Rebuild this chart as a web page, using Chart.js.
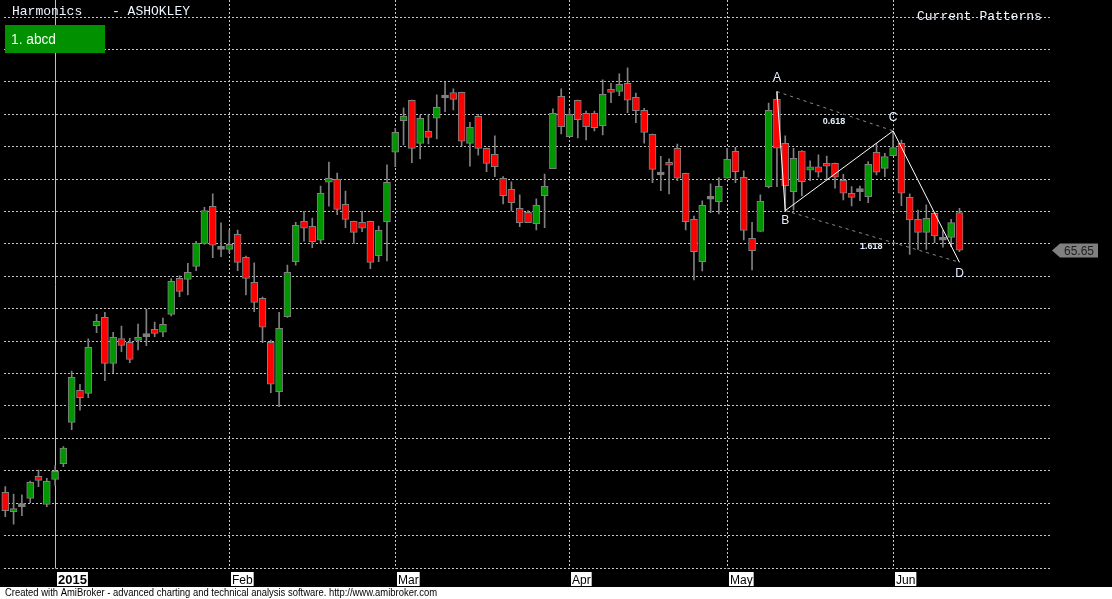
<!DOCTYPE html>
<html>
<head>
<meta charset="utf-8">
<title>Harmonics - ASHOKLEY</title>
<script src="https://cdn.jsdelivr.net/npm/chart.js@4.4.0/dist/chart.umd.min.js"></script>
<style>
  html, body { margin: 0; padding: 0; background: #000; }
  canvas { display: block; }
</style>
</head>
<body>
<canvas id="chart" width="1112" height="599"></canvas>
<script>
// Daily OHLC, 23 Dec 2014 -> 11 Jun 2015 (one entry per trading day)
const opens = [
  50.70, 49.51, 49.82, 50.33, 51.69, 49.96, 51.50, 52.47, 55.02, 57.00,
  56.81, 60.99, 61.50, 58.66, 60.19, 59.96, 60.08, 60.31, 60.76, 60.58,
  61.69, 63.91, 63.85, 64.65, 66.07, 68.35, 65.70, 65.70, 66.63, 65.21,
  63.66, 62.68, 59.96, 56.91, 61.54, 64.94, 67.43, 67.12, 66.26, 69.84,
  70.02, 68.48, 67.43, 67.37, 67.43, 65.31, 67.41, 71.69, 73.64, 74.90,
  72.24, 72.98, 73.79, 75.04, 75.37, 75.39, 72.24, 73.91, 71.93, 71.57,
  70.09, 69.41, 68.23, 67.99, 67.29, 69.02, 70.68, 75.15, 72.66, 74.90,
  74.10, 74.10, 73.34, 75.58, 75.44, 75.95, 75.09, 74.28, 72.80, 70.29,
  71.01, 71.94, 70.39, 67.55, 64.94, 68.79, 68.64, 70.09, 71.75, 70.15,
  66.38, 66.80, 69.57, 74.96, 72.25, 69.26, 71.77, 70.58, 70.79, 70.95,
  71.01, 69.96, 69.16, 69.26, 68.95, 71.69, 70.70, 71.48, 72.25, 68.91,
  67.55, 66.75, 67.93, 66.26, 66.44, 67.97
];
const highs = [
  51.05, 50.60, 50.54, 51.40, 52.08, 51.56, 52.33, 53.52, 58.19, 57.37,
  60.17, 61.69, 61.81, 60.58, 60.97, 60.21, 61.09, 62.00, 61.21, 61.46,
  63.89, 64.07, 64.84, 66.19, 68.29, 69.12, 67.33, 66.89, 66.89, 65.29,
  64.86, 62.75, 60.10, 61.81, 64.73, 67.37, 68.05, 67.63, 69.61, 71.09,
  70.41, 69.30, 67.45, 68.05, 67.45, 67.14, 70.91, 73.17, 74.44, 74.92,
  73.99, 73.99, 75.23, 76.01, 75.60, 75.41, 73.54, 74.03, 71.95, 72.70,
  70.19, 69.86, 69.06, 68.09, 68.81, 70.35, 74.37, 75.60, 74.30, 74.92,
  74.24, 74.24, 76.16, 75.95, 76.53, 76.90, 75.35, 74.41, 72.82, 71.44,
  71.28, 72.20, 70.41, 67.76, 68.69, 69.74, 70.13, 71.94, 72.00, 70.54,
  67.37, 69.06, 74.72, 75.44, 72.70, 71.94, 71.79, 71.16, 71.53, 71.46,
  71.03, 70.33, 69.57, 69.61, 71.11, 72.25, 71.63, 72.97, 72.45, 69.12,
  68.13, 68.44, 67.95, 66.86, 67.55, 68.23
];
const lows = [
  49.20, 48.73, 49.26, 50.06, 51.05, 49.82, 51.15, 52.28, 54.57, 55.78,
  56.54, 60.56, 57.59, 58.09, 59.38, 58.70, 59.49, 59.75, 60.31, 60.31,
  61.59, 62.78, 62.88, 64.38, 66.00, 65.19, 65.25, 65.49, 64.38, 62.88,
  61.85, 59.94, 56.85, 55.99, 61.50, 64.73, 66.21, 65.80, 66.07, 68.37,
  67.84, 67.04, 66.05, 66.79, 64.51, 64.94, 64.98, 70.80, 72.14, 71.05,
  71.28, 72.20, 72.51, 74.20, 74.30, 72.08, 70.84, 71.52, 70.49, 70.19,
  68.50, 68.07, 67.10, 67.35, 66.90, 67.04, 70.68, 72.82, 72.66, 72.57,
  72.45, 73.01, 72.76, 74.76, 75.19, 74.14, 73.52, 72.25, 69.82, 69.32,
  69.12, 69.94, 66.90, 63.81, 64.37, 67.97, 67.88, 70.09, 69.82, 66.28,
  64.43, 66.80, 69.49, 69.57, 68.09, 68.13, 68.99, 69.94, 70.15, 69.98,
  69.47, 68.75, 68.38, 68.71, 68.58, 70.29, 70.19, 71.48, 68.40, 65.39,
  65.70, 65.70, 66.11, 65.83, 65.87, 65.56
];
const closes = [
  49.57, 49.67, 49.82, 51.32, 51.44, 51.38, 52.00, 53.44, 57.80, 56.54,
  59.65, 61.26, 58.66, 60.27, 59.77, 58.91, 60.21, 60.31, 60.51, 61.07,
  63.72, 63.11, 64.28, 66.07, 68.09, 65.95, 65.70, 66.01, 64.90, 63.91,
  62.43, 60.89, 57.37, 60.82, 64.28, 67.18, 67.00, 66.17, 69.16, 70.08,
  68.17, 67.55, 66.75, 67.00, 64.90, 66.87, 69.84, 72.92, 73.93, 71.93,
  73.79, 72.61, 74.47, 75.04, 74.96, 72.37, 73.23, 71.93, 71.01, 70.81,
  69.02, 68.58, 67.35, 67.35, 68.42, 69.59, 74.10, 73.27, 74.04, 73.71,
  73.27, 73.21, 75.27, 75.39, 75.89, 74.90, 74.26, 72.92, 70.64, 70.29,
  70.89, 70.09, 67.41, 65.56, 68.42, 68.79, 69.59, 71.26, 70.50, 66.86,
  65.62, 68.67, 74.28, 71.94, 69.63, 71.32, 69.88, 70.79, 70.46, 70.83,
  70.15, 69.16, 68.91, 69.26, 70.95, 70.46, 71.42, 71.98, 69.16, 67.51,
  66.75, 67.62, 66.53, 66.26, 67.35, 65.65
];

// first trading day of each month (bar index) and its axis label
const monthStarts = [6, 27, 47, 68, 87, 107];
const monthLabels = ['2015', 'Feb', 'Mar', 'Apr', 'May', 'Jun'];

// horizontal grid levels
const gridPrices = [46, 48, 50, 52, 54, 56, 58, 60, 62, 64, 66, 68, 70, 72, 74, 76, 78, 80];

// harmonic abcd pattern
const patternNames = ['A', 'B', 'C', 'D'];
const patternIdx = [93, 94, 107, 115];
const patternPrices = [75.44, 68.09, 73.01, 64.90];
const ratioLabels = ['0.618', '1.618'];

const idx = opens.map((_, i) => i);
const bodyColors = idx.map(i =>
  closes[i] > opens[i] ? '#009600' : (closes[i] < opens[i] ? '#ff0000' : '#808080'));

const pt = k => ({ x: patternIdx[k], y: patternPrices[k] });

const amiPlugin = {
  id: 'ami',
  beforeDraw(chart) {
    const { ctx, width, height } = chart;
    ctx.save();
    ctx.fillStyle = '#000';
    ctx.fillRect(0, 0, width, height);
    ctx.fillStyle = '#fff';
    ctx.fillRect(0, 587, width, height - 587);
    ctx.restore();
  },
  beforeDatasetsDraw(chart) {
    const { ctx, chartArea, scales: { x, y } } = chart;
    ctx.save();
    ctx.lineWidth = 1;
    ctx.strokeStyle = '#c8c8c8';
    ctx.setLineDash([2, 2]);
    gridPrices.forEach(p => {
      const py = Math.round(y.getPixelForValue(p)) - 0.5;
      ctx.beginPath();
      ctx.moveTo(chartArea.left + 4, py);
      ctx.lineTo(chartArea.right, py);
      ctx.stroke();
    });
    monthStarts.forEach((m, k) => {
      const px = Math.floor(x.getPixelForValue(m)) + 0.5;
      // year line is solid, months dotted
      ctx.setLineDash(k === 0 ? [] : [2, 2]);
      ctx.strokeStyle = k === 0 ? '#c0c0c0' : '#c8c8c8';
      ctx.beginPath();
      ctx.moveTo(px, chartArea.top);
      ctx.lineTo(px, chartArea.bottom);
      ctx.stroke();
    });
    ctx.restore();
  },
  afterDraw(chart) {
    const { ctx, chartArea, scales: { x, y } } = chart;
    ctx.save();

    // pattern point labels
    ctx.fillStyle = '#e4f0ff';
    ctx.font = '12px "Liberation Sans", Arial, sans-serif';
    ctx.textAlign = 'center';
    ctx.textBaseline = 'middle';
    const offs = [-14, 10, -13, 11];
    patternNames.forEach((n, k) => {
      ctx.fillText(n, x.getPixelForValue(patternIdx[k]), y.getPixelForValue(patternPrices[k]) + offs[k]);
    });
    ctx.font = 'bold 9px "Liberation Sans", Arial, sans-serif';
    [[0, 2], [1, 3]].forEach(([a, b], k) => {
      const mx = (x.getPixelForValue(patternIdx[a]) + x.getPixelForValue(patternIdx[b])) / 2;
      const my = (y.getPixelForValue(patternPrices[a]) + y.getPixelForValue(patternPrices[b])) / 2;
      ctx.fillText(ratioLabels[k], mx - 1, my + 10);
    });

    // titles
    ctx.textAlign = 'left';
    ctx.textBaseline = 'alphabetic';
    ctx.fillStyle = '#eef6ff';
    ctx.font = '13px "Liberation Mono", "DejaVu Sans Mono", monospace';
    ctx.fillText('Harmonics', 12, 15);
    ctx.fillText('- ASHOKLEY', 112, 15);
    ctx.fillText('Current Patterns', 917, 20);

    // pattern list box
    ctx.fillStyle = '#009000';
    ctx.fillRect(5, 25, 100, 28);
    ctx.fillStyle = '#f4fff4';
    ctx.font = '14px "Liberation Sans", Arial, sans-serif';
    ctx.fillText('1. abcd', 11, 44, 45);

    // last price tag
    const last = closes[closes.length - 1];
    const py = Math.round(y.getPixelForValue(last)) + 0.5;
    const rx = chartArea.right + 1;
    ctx.fillStyle = '#808080';
    ctx.beginPath();
    ctx.moveTo(rx, py);
    ctx.lineTo(rx + 8, py - 7);
    ctx.lineTo(rx + 46, py - 7);
    ctx.lineTo(rx + 46, py + 7);
    ctx.lineTo(rx + 8, py + 7);
    ctx.closePath();
    ctx.fill();
    ctx.fillStyle = '#1e1e1e';
    ctx.font = '12px "Liberation Sans", Arial, sans-serif';
    ctx.textAlign = 'center';
    ctx.textBaseline = 'middle';
    ctx.fillText(last.toFixed(2), rx + 27, py + 1);

    // month labels
    ctx.textAlign = 'left';
    ctx.textBaseline = 'alphabetic';
    monthStarts.forEach((m, k) => {
      const px = Math.floor(x.getPixelForValue(m)) + 2;
      ctx.font = k === 0 ? 'bold 13px "Liberation Sans", Arial, sans-serif'
                         : '12px "Liberation Sans", Arial, sans-serif';
      const w = ctx.measureText(monthLabels[k]).width + 2;
      ctx.fillStyle = '#fff';
      ctx.fillRect(px, 572, w, 14);
      ctx.fillStyle = '#000';
      ctx.fillText(monthLabels[k], px + 1, 584);
    });

    // footer
    ctx.fillStyle = '#000';
    ctx.font = '10px "Liberation Sans", Arial, sans-serif';
    ctx.fillText('Created with AmiBroker - advanced charting and technical analysis software. http://www.amibroker.com', 5, 596, 432);
    ctx.restore();
  }
};

new Chart(document.getElementById('chart'), {
  type: 'bar',
  data: {
    datasets: [
      {
        type: 'line',
        data: patternIdx.map((_, k) => pt(k)),
        borderColor: '#ffffff',
        borderWidth: 1,
        pointRadius: 0,
        tension: 0,
        order: 0
      },
      {
        type: 'line',
        data: [pt(0), pt(2)],
        borderColor: '#8c8c8c',
        borderWidth: 1,
        borderDash: [3, 4],
        pointRadius: 0,
        order: 0
      },
      {
        type: 'line',
        data: [pt(1), pt(3)],
        borderColor: '#8c8c8c',
        borderWidth: 1,
        borderDash: [3, 4],
        pointRadius: 0,
        order: 0
      },
      {
        // candle bodies
        data: idx.map(i => ({ x: i, y: [opens[i], closes[i]] })),
        backgroundColor: bodyColors,
        borderColor: '#808080',
        borderWidth: 1,
        borderSkipped: false,
        barThickness: 7,
        minBarLength: 3,
        grouped: false,
        order: 1
      },
      {
        // wicks
        data: idx.map(i => ({ x: i, y: [lows[i], highs[i]] })),
        backgroundColor: '#808080',
        borderWidth: 0,
        barThickness: 1,
        grouped: false,
        order: 2
      }
    ]
  },
  options: {
    responsive: false,
    animation: false,
    devicePixelRatio: 1,
    layout: { padding: { left: 0, right: 61, top: 0, bottom: 30.5 } },
    plugins: { legend: { display: false }, tooltip: { enabled: false } },
    scales: {
      x: { type: 'linear', display: false, offset: false, min: -0.639, max: 126.03 },
      y: { display: false, min: 46, max: 81.09 }
    }
  },
  plugins: [amiPlugin]
});
</script>
</body>
</html>
